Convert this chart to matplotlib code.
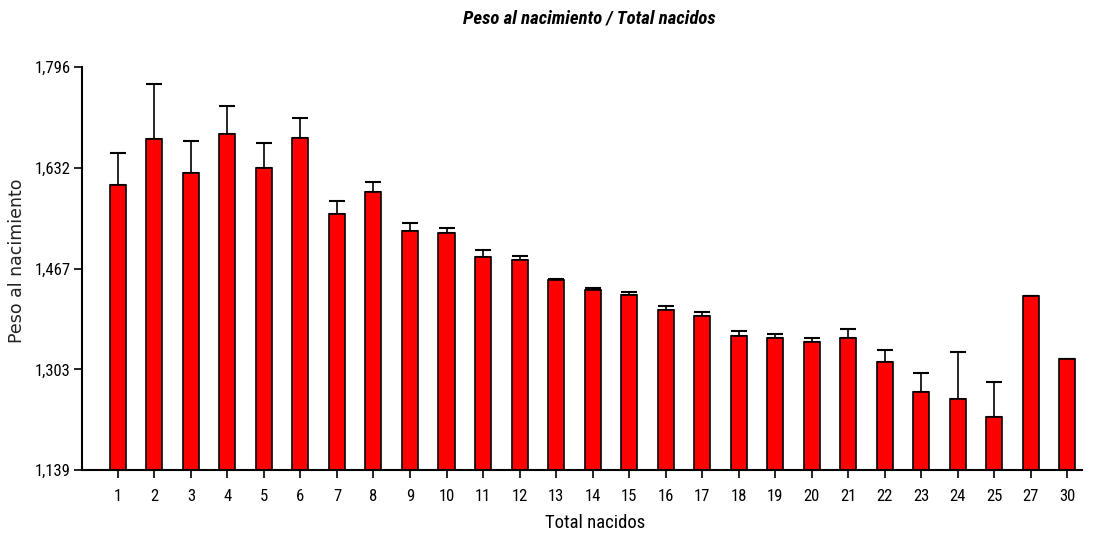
import matplotlib.pyplot as plt
import numpy as np

# datos
categories = ['1', '2', '3', '4', '5', '6', '7', '8', '9', '10', '11', '12', '13', '14',
              '15', '16', '17', '18', '19', '20', '21', '22', '23', '24', '25', '27', '30']
means = [1603, 1679, 1623, 1687, 1632, 1681, 1557, 1592, 1528, 1525, 1487, 1482, 1448, 1433,
         1424, 1400, 1390, 1358, 1355, 1347, 1355, 1315, 1266, 1255, 1226, 1422, 1320]
err_top = [1655, 1768, 1676, 1732, 1672, 1713, 1577, 1609, 1541, 1534, 1497, 1488, 1450, 1436,
           1430, 1407, 1396, 1365, 1361, 1355, 1369, 1335, 1297, 1332, 1283, 1422, 1320]
yticks = [1139, 1303, 1467, 1632, 1796]

narrow = ['Liberation Sans Narrow', 'DejaVu Sans Condensed', 'Roboto Condensed', 'Liberation Sans']

fig = plt.figure(figsize=(10.98, 5.33), dpi=100)
ax = fig.add_axes([0.0747, 0.1182, 0.9107, 0.7561])

x = np.arange(len(categories))
upper = np.array(err_top) - np.array(means)
ax.bar(x, means, width=0.44, color='#ff0000', edgecolor='black', linewidth=1.2, zorder=2)
ax.errorbar(x, means, yerr=[np.zeros(len(x)), upper], fmt='none', ecolor='black',
            elinewidth=1.2, capsize=6, capthick=1.5, zorder=1)

ax.set_ylim(1139, 1796)
ax.set_xlim(-0.98, 26.4)
ax.set_yticks(yticks)
ax.set_yticklabels([f'{v:,}' for v in yticks], family=narrow, fontsize=12)
ax.set_xticks(x)
ax.set_xticklabels(categories, family=narrow, fontsize=12)

for s in ['top', 'right']:
    ax.spines[s].set_visible(False)
ax.spines['left'].set_linewidth(1.5)
ax.spines['bottom'].set_linewidth(1.5)
ax.tick_params(axis='both', direction='out', length=6, width=1.2, colors='black')
ax.tick_params(axis='x', pad=8)
ax.tick_params(axis='y', pad=2)

ax.set_xlabel('Total nacidos', family=narrow, fontsize=13.5)
ax.xaxis.set_label_coords(0.513, -0.11)
ax.set_ylabel('Peso al nacimiento', family='DejaVu Sans', fontsize=12.5, color='#222222')
ax.yaxis.set_label_coords(-0.056, 0.52)
fig.text(0.537, 0.965, 'Peso al nacimiento / Total nacidos', family=narrow, fontsize=13.5,
         fontweight='bold', fontstyle='italic', ha='center', va='center')

plt.savefig('out.png', dpi=100)
